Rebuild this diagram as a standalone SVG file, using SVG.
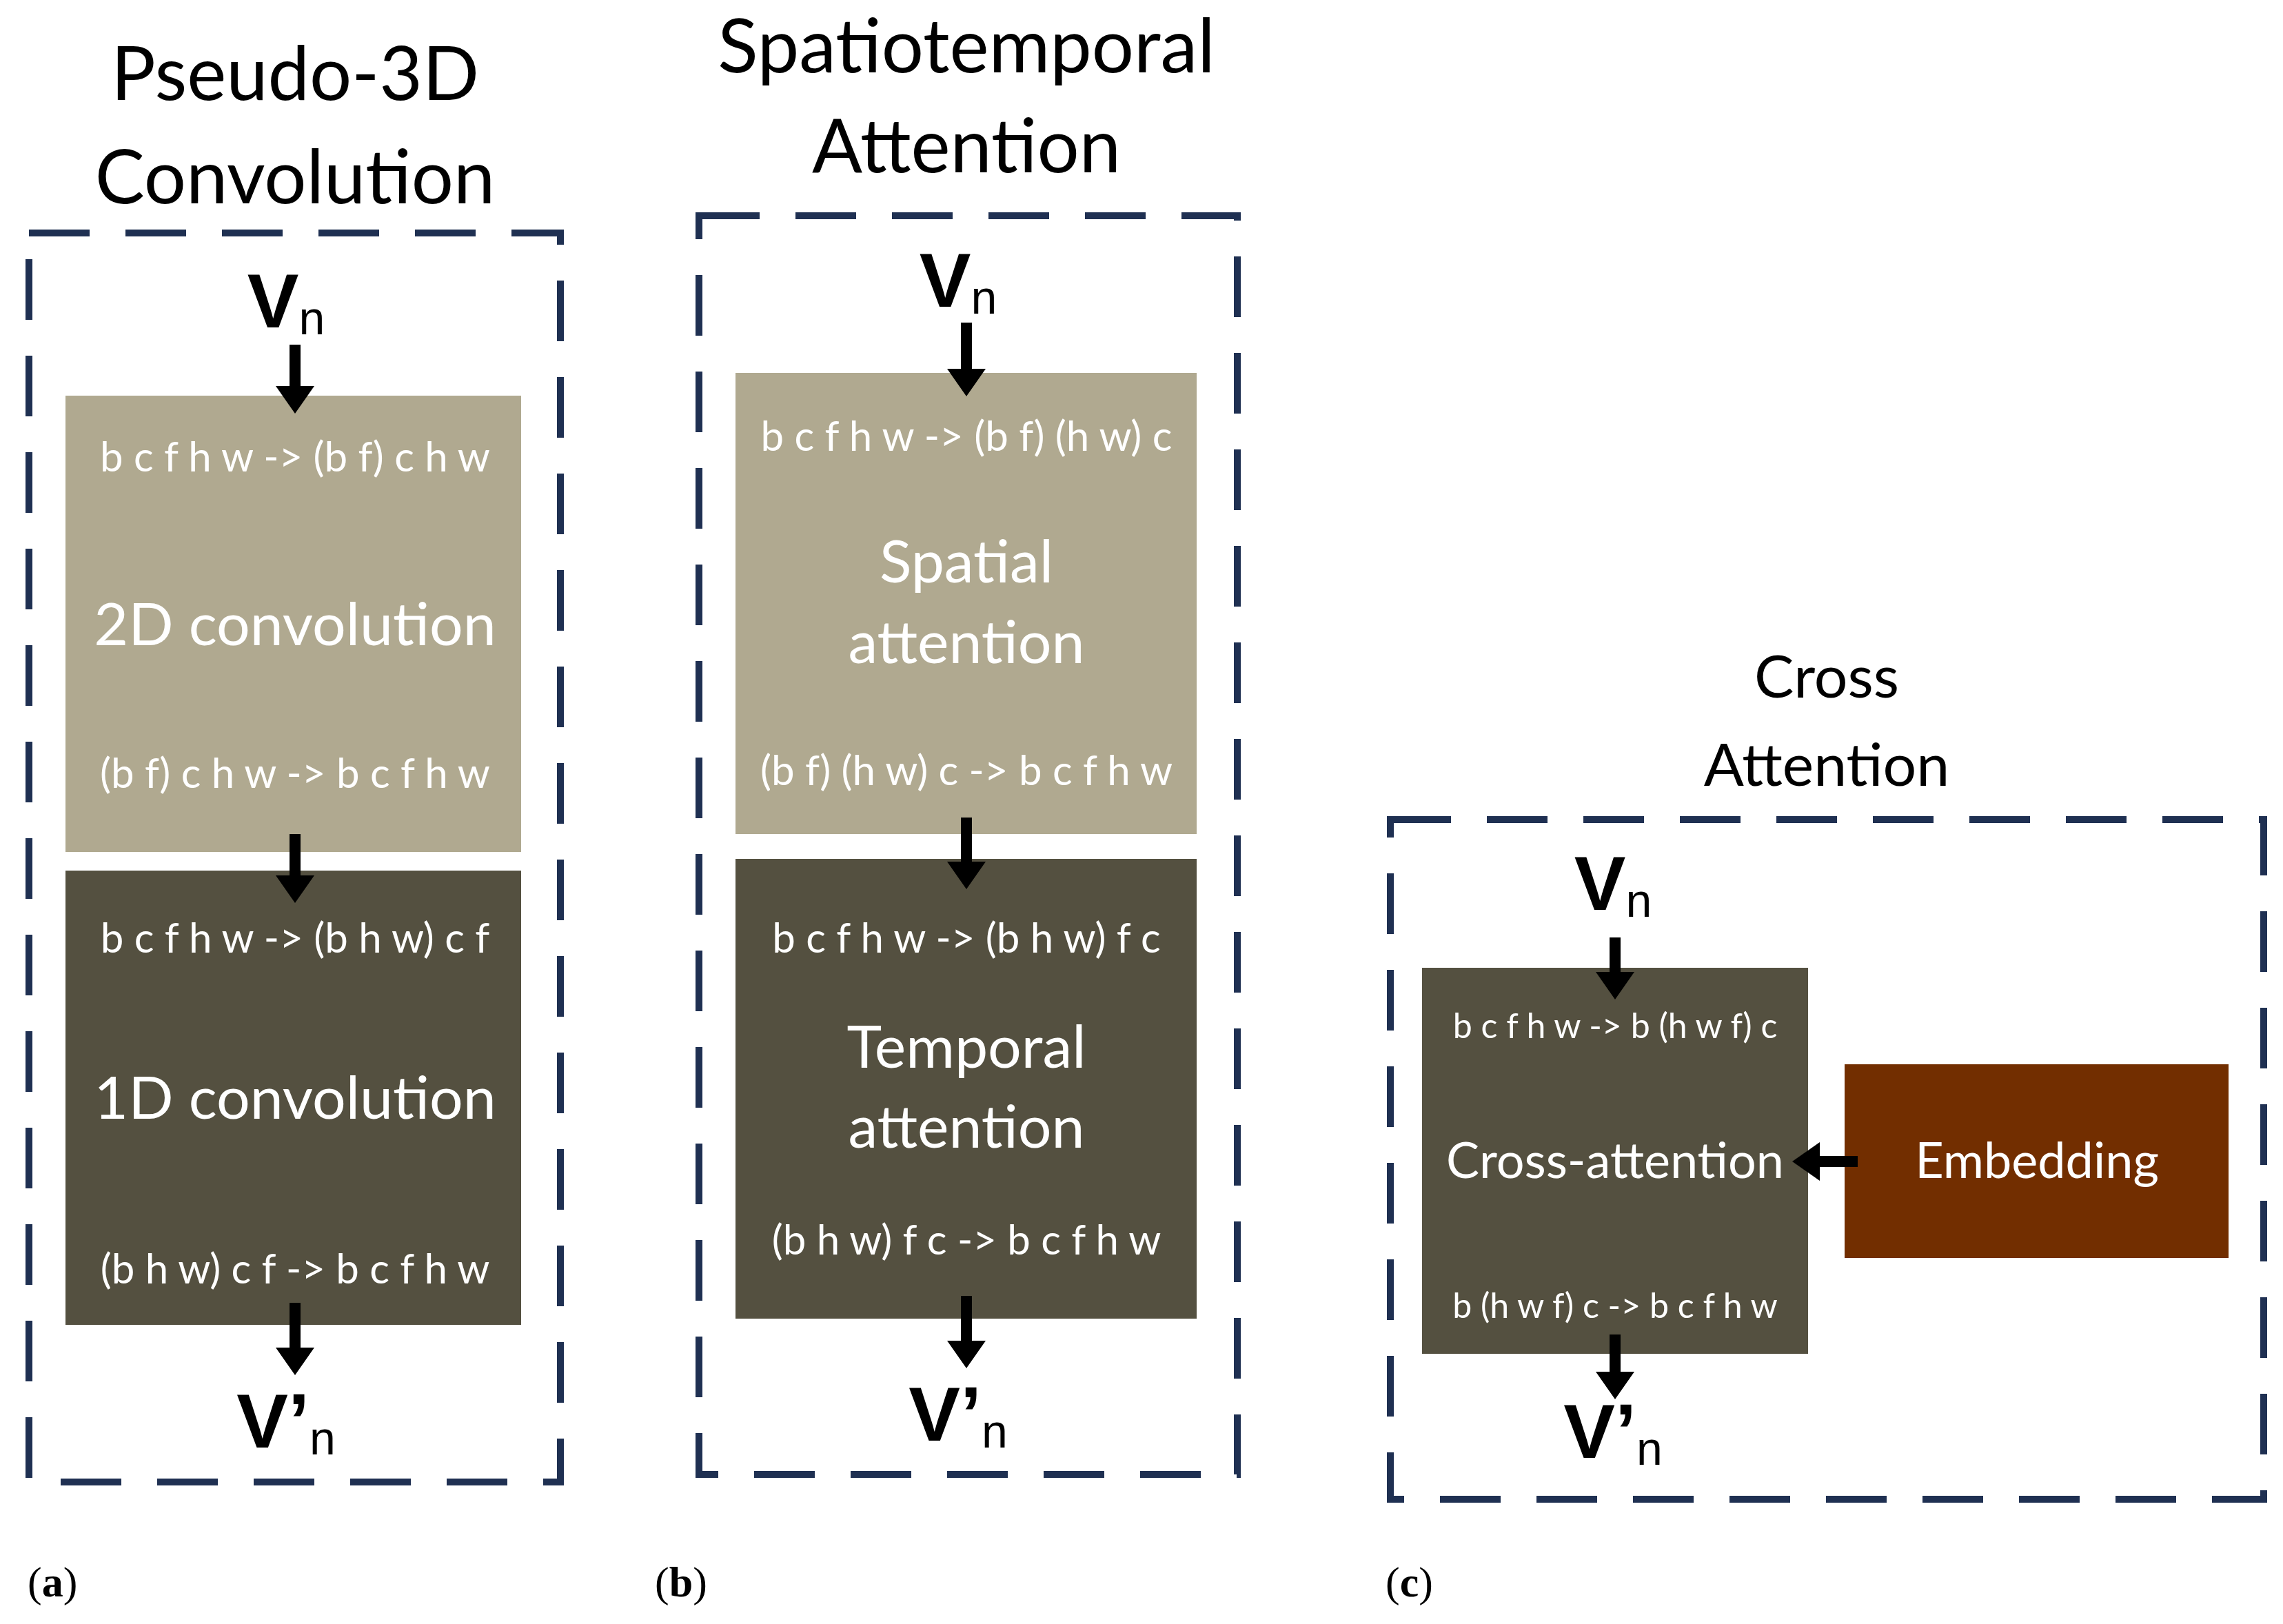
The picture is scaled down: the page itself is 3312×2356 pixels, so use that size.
<svg xmlns="http://www.w3.org/2000/svg" width="3312" height="2356" viewBox="0 0 3312 2356">
<style>
.dash{fill:none;stroke:#1f3052;stroke-width:10;stroke-dasharray:88,52}
.t{font-family:Lato,"Open Sans",sans-serif;fill:#000;text-anchor:middle}
.w{font-family:Lato,"Open Sans",sans-serif;fill:#fff;text-anchor:middle}
.v{font-family:"Liberation Sans",Arial,sans-serif;font-weight:bold;font-size:112px;text-anchor:middle}
.s{font-weight:normal;font-size:68px}
.lab{font-family:"Liberation Serif",serif;font-size:62px}
.ar{stroke:#000;stroke-width:16;fill:none;marker-end:url(#h)}
</style>
<defs>
<marker id="h" markerUnits="userSpaceOnUse" markerWidth="60" markerHeight="60" refX="0" refY="30" orient="auto" viewBox="0 0 60 60">
<path d="M0,2 L40,30 L0,58 Z" fill="#000"/>
</marker>
</defs>
<rect width="3312" height="2356" fill="#fff"/>
<g id="panel-a">
<rect class="dash" x="42" y="338" width="771" height="1812"/>
<text class="t" x="428" y="145" font-size="108">Pseudo-3D</text>
<text class="t" x="428" y="295" font-size="108">Convolution</text>
<text class="v" x="415" y="475">V<tspan class="s" dy="10">n</tspan></text>
<rect x="95" y="574" width="661" height="662" fill="#b0a990"/>
<text class="w" x="428" y="684" font-size="60">b c f h w -&gt; (b f) c h w</text>
<text class="w" x="428" y="936" font-size="86">2D convolution</text>
<text class="w" x="428" y="1143" font-size="60">(b f) c h w -&gt; b c f h w</text>
<rect x="95" y="1263" width="661" height="659" fill="#545040"/>
<text class="w" x="428" y="1382" font-size="60">b c f h w -&gt; (b h w) c f</text>
<text class="w" x="428" y="1623" font-size="86">1D convolution</text>
<text class="w" x="428" y="1862" font-size="60">(b h w) c f -&gt; b c f h w</text>
<text class="v" x="415" y="2100">V’<tspan class="s" dy="10">n</tspan></text>
<text class="lab" x="40" y="2316">(<tspan font-weight="bold">a</tspan>)</text>
</g>
<g id="panel-b">
<rect class="dash" x="1014" y="313" width="781" height="1826"/>
<text class="t" x="1402" y="105" font-size="108">Spatiotemporal</text>
<text class="t" x="1402" y="250" font-size="108">Attention</text>
<text class="v" x="1390" y="445">V<tspan class="s" dy="10">n</tspan></text>
<rect x="1067" y="541" width="669" height="669" fill="#b0a990"/>
<text class="w" x="1402" y="654" font-size="60">b c f h w -&gt; (b f) (h w) c</text>
<text class="w" x="1402" y="845" font-size="86">Spatial</text>
<text class="w" x="1402" y="962" font-size="86">attention</text>
<text class="w" x="1402" y="1139" font-size="60">(b f) (h w) c -&gt; b c f h w</text>
<rect x="1067" y="1246" width="669" height="667" fill="#545040"/>
<text class="w" x="1402" y="1382" font-size="60">b c f h w -&gt; (b h w) f c</text>
<text class="w" x="1402" y="1549" font-size="86">Temporal</text>
<text class="w" x="1402" y="1665" font-size="86">attention</text>
<text class="w" x="1402" y="1820" font-size="60">(b h w) f c -&gt; b c f h w</text>
<text class="v" x="1390" y="2090">V’<tspan class="s" dy="10">n</tspan></text>
<text class="lab" x="950" y="2316">(<tspan font-weight="bold">b</tspan>)</text>
</g>
<g id="panel-c">
<rect class="dash" x="2017" y="1189" width="1267" height="986"/>
<text class="t" x="2650" y="1012" font-size="86">Cross</text>
<text class="t" x="2650" y="1140" font-size="86">Attention</text>
<text class="v" x="2340" y="1320" font-size="92">V<tspan class="s" dy="10" font-size="56">n</tspan></text>
<rect x="2063" y="1404" width="560" height="560" fill="#545040"/>
<text class="w" x="2343" y="1506" font-size="50">b c f h w -&gt; b (h w f) c</text>
<text class="w" x="2343" y="1709" font-size="72">Cross-attention</text>
<text class="w" x="2343" y="1912" font-size="50">b (h w f) c -&gt; b c f h w</text>
<rect x="2676" y="1544" width="557" height="281" fill="#722e00"/>
<text class="w" x="2955" y="1709" font-size="72">Embedding</text>
<text class="v" x="2340" y="2115" font-size="92">V’<tspan class="s" dy="10" font-size="56">n</tspan></text>
<text class="lab" x="2010" y="2316">(<tspan font-weight="bold">c</tspan>)</text>
</g>
<g id="connectors">
<path class="ar" d="M428,500 V560"/>
<path class="ar" d="M428,1210 V1270"/>
<path class="ar" d="M428,1890 V1955"/>
<path class="ar" d="M1402,468 V535"/>
<path class="ar" d="M1402,1186 V1250"/>
<path class="ar" d="M1402,1880 V1945"/>
<path class="ar" d="M2343,1360 V1410"/>
<path class="ar" d="M2343,1936 V1990"/>
<path class="ar" d="M2695,1685 H2640"/>
</g>
</svg>
